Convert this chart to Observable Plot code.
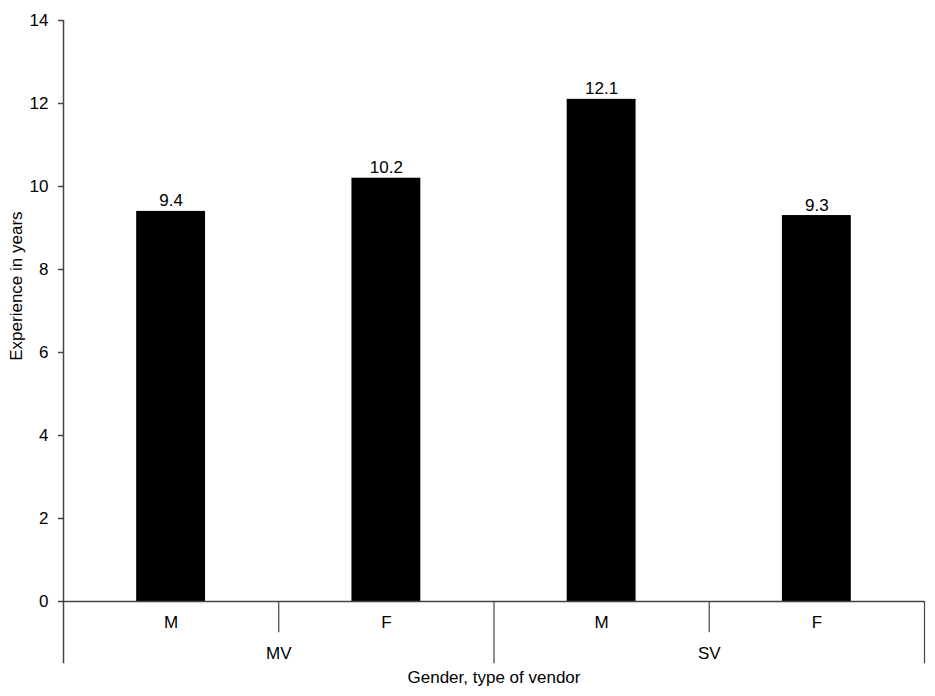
<!DOCTYPE html>
<html>
<head>
<meta charset="utf-8">
<script src="https://cdn.jsdelivr.net/npm/d3@7"></script>
<script src="https://cdn.jsdelivr.net/npm/@observablehq/plot@0.6"></script>
<style>
  html, body { margin: 0; padding: 0; background: #fff; }
  #chart svg { display: block; }
</style>
</head>
<body>
<div id="chart"></div>
<script>
const genders = ["M", "F", "M", "F"];
const vendorTypes = ["MV", "MV", "SV", "SV"];
const groups = ["MV", "SV"];
const experience = [9.4, 10.2, 12.1, 9.3];
const yTicks = [0, 2, 4, 6, 8, 10, 12, 14];

const data = genders.map((g, i) => ({idx: i, gender: g, vendor: vendorTypes[i], value: experience[i]}));
const groupData = groups.map((g, i) => ({group: g, center: i * 2 + 1}));

const font = "'Liberation Sans', Arial, sans-serif";
const lineColor = "#444";

const chart = Plot.plot({
  width: 935,
  height: 696,
  marginLeft: 63,
  marginRight: 11,
  marginTop: 20,
  marginBottom: 95,
  style: {fontFamily: font, fontSize: "17px", color: "#000", background: "#fff"},
  x: {type: "linear", domain: [0, 4], axis: null},
  y: {domain: [0, 14], axis: null},
  marks: [
    Plot.axisY(yTicks, {
      tickSize: 5, tickPadding: 10, stroke: lineColor, strokeWidth: 1.5,
      fontSize: 17, label: null
    }),
    Plot.text(["Experience in years"], {
      x: 0, y: 7.6, dx: -47, rotate: -90, fontSize: 17
    }),
    Plot.rectY(data, {
      x1: d => d.idx + 0.34, x2: d => d.idx + 0.66, y1: 0, y2: "value", fill: "#000"
    }),
    Plot.text(data, {
      x: d => d.idx + 0.5, y: "value", text: d => d.value.toFixed(1),
      lineAnchor: "bottom", dy: -5, fontSize: 17
    }),
    Plot.ruleY([0], {stroke: lineColor, strokeWidth: 1.5}),
    Plot.ruleX([0], {y1: -1.5, y2: 14, stroke: lineColor, strokeWidth: 1.5}),
    Plot.ruleX([2, 4], {y1: -1.5, y2: 0, stroke: lineColor, strokeWidth: 1.2}),
    Plot.ruleX([1, 3], {y1: -0.75, y2: 0, stroke: lineColor, strokeWidth: 1.2}),
    Plot.text(data, {x: d => d.idx + 0.5, y: -0.5, text: "gender", fontSize: 17}),
    Plot.text(groupData, {x: "center", y: -1.25, text: "group", fontSize: 17}),
    Plot.text(["Gender, type of vendor"], {x: 2, y: -1.83, fontSize: 17})
  ]
});
document.getElementById("chart").appendChild(chart);
</script>
</body>
</html>
